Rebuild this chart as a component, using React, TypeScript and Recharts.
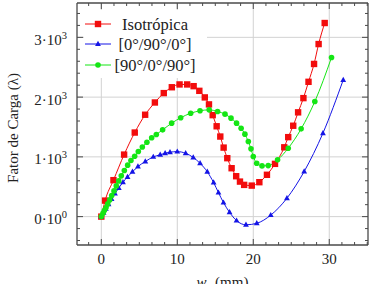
import { LineChart, Line, XAxis, YAxis, CartesianGrid, Legend, ReferenceLine } from "recharts";

const serif = "'Liberation Serif', 'Times New Roman', serif";

// Isotrópica (red squares)
const isoX = [0, 0.5, 1.6, 3.0, 4.4, 5.77, 7.05, 8.22, 9.28, 10.3, 11.3, 12.15, 12.9, 13.62, 14.17, 14.66, 15.18, 15.66, 16.1, 16.58, 17.15, 17.75, 18.25, 18.8, 19.8, 20.8, 21.8, 22.86, 24.08, 24.6, 25.26, 25.9, 26.6, 27.27, 28.0, 28.6, 29.4];
const isoY = [0, 268, 610, 1038, 1407, 1705, 1910, 2067, 2165, 2212, 2212, 2183, 2105, 1995, 1878, 1698, 1512, 1340, 1155, 978, 810, 676, 586, 531, 519, 576, 700, 883, 1160, 1330, 1521, 1745, 1983, 2256, 2555, 2888, 3240];

// [0°/90°/0°] (blue triangles)
const cpX = [0, 0.3, 0.6, 0.95, 1.35, 1.8, 2.3, 2.85, 3.45, 4.1, 4.82, 5.79, 6.84, 7.75, 8.4, 9.04, 10.0, 11.1, 12.1, 13.0, 13.95, 14.78, 15.42, 16.08, 16.88, 17.8, 19.04, 20.46, 22.3, 24.43, 26.7, 29.17, 31.84];
const cpY = [0, 65, 130, 205, 295, 385, 480, 575, 665, 750, 838, 922, 1000, 1035, 1062, 1078, 1088, 1060, 990, 892, 750, 570, 402, 235, 72, -67, -137, -112, 25, 308, 755, 1397, 2288];

// [90°/0°/90°] (green circles)
const apX = [0, 0.22, 0.4, 0.62, 0.84, 1.1, 1.37, 1.67, 1.97, 2.29, 2.63, 3.03, 3.47, 3.9, 4.39, 4.87, 5.4, 6.0, 6.63, 7.24, 8.07, 9.26, 10.45, 11.76, 12.99, 14.2, 15.3, 16.28, 17.07, 17.8, 18.4, 18.9, 19.35, 19.7, 20.0, 20.45, 21.15, 21.97, 23.2, 24.6, 26.3, 28.1, 30.3];
const apY = [0, 57, 101, 151, 213, 280, 352, 430, 514, 598, 682, 771, 861, 940, 1010, 1090, 1165, 1245, 1320, 1375, 1452, 1564, 1655, 1730, 1771, 1787, 1759, 1715, 1648, 1564, 1480, 1380, 1256, 1134, 1005, 894, 849, 854, 950, 1145, 1469, 1926, 2663];

const legendNames = ["Isotrópica", "[0°/90°/0°]", "[90°/0°/90°]"];
const xTicks = [0, 10, 20, 30];
const yTicks = [0, 1000, 2000, 3000];
const yMant = ["0", "1", "2", "3"];
const yExp = ["0", "3", "3", "3"];

const xDomain = [-3.2, 35.1];
const yDomain = [-475, 3575];

// minor tick positions (frame ticks, no labels)
const xAll: number[] = [];
for (let i = -1; i <= 21; i++) xAll.push(Math.round(((i * 10) / 6) * 1000) / 1000);
const yAll: number[] = [];
for (let v = -400; v <= 3400; v += 200) yAll.push(v);

const isoData = isoX.map((x, i) => ({ x, y: isoY[i] }));
const cpData = cpX.map((x, i) => ({ x, y: cpY[i] }));
const apData = apX.map((x, i) => ({ x, y: apY[i] }));

const RED = "#f20c0c";
const BLUE = "#1414e6";
const GREEN = "#14e614";
const FRAME = "#4a4a4a";
const TEXT = "#222";

const PLOT_TOP = 3;
const PLOT_RIGHT = 368;

const txt = { fontFamily: serif };

const squareDot = (p: any) =>
  p.cx == null ? null : <rect key={p.index} x={p.cx - 3.2} y={p.cy - 3.2} width={6.4} height={6.4} fill={RED} />;
const triDot = (p: any) =>
  p.cx == null ? null : (
    <path key={p.index} d={`M${p.cx},${p.cy - 3.2}L${p.cx + 2.9},${p.cy + 2}L${p.cx - 2.9},${p.cy + 2}Z`} fill={BLUE} />
  );
const circleDot = (p: any) =>
  p.cx == null ? null : <circle key={p.index} cx={p.cx} cy={p.cy} r={2.8} fill={GREEN} />;

const isMajorX = (v: number) => xTicks.some((t) => Math.abs(t - v) < 1e-6);

const XTick = ({ x, y, payload }: any) => {
  const major = isMajorX(payload.value);
  const len = major ? 6 : 3;
  return (
    <g>
      <line x1={x} x2={x} y1={y} y2={y - len} stroke={FRAME} strokeWidth={1} />
      <line x1={x} x2={x} y1={PLOT_TOP} y2={PLOT_TOP + len} stroke={FRAME} strokeWidth={1} />
      {major && (
        <text x={x} y={y + 18.5} textAnchor="middle" fontSize={15} style={txt} fill={TEXT}>
          {Math.round(payload.value)}
        </text>
      )}
    </g>
  );
};

const YTick = ({ x, y, payload }: any) => {
  const i = yTicks.indexOf(payload.value);
  const len = i >= 0 ? 6 : 3;
  return (
    <g>
      <line x1={x} x2={x + len} y1={y} y2={y} stroke={FRAME} strokeWidth={1} />
      <line x1={PLOT_RIGHT} x2={PLOT_RIGHT - len} y1={y} y2={y} stroke={FRAME} strokeWidth={1} />
      {i >= 0 && (
        <text x={x - 10} y={y + 7.5} textAnchor="end" fontSize={15} style={txt} fill={TEXT}>
          <tspan>{yMant[i]}·10</tspan>
          <tspan dy={-6} fontSize={10.5}>{yExp[i]}</tspan>
        </text>
      )}
    </g>
  );
};

const renderLegend = () => {
  const colors = [RED, BLUE, GREEN];
  const marks = [
    <rect x={10.8} y={10.8} width={6.4} height={6.4} fill={RED} />,
    <path d="M14,30.8L16.9,36L11.1,36Z" fill={BLUE} />,
    <circle cx={14} cy={55} r={2.8} fill={GREEN} />,
  ];
  const rowsY = [14, 34, 55];
  return (
    <svg width={123} height={68} style={{ display: "block", background: "#fff" }}>
      {legendNames.map((name, i) => (
        <g key={name}>
          <line x1={1} x2={27} y1={rowsY[i]} y2={rowsY[i]} stroke={colors[i]} strokeWidth={1} />
          {marks[i]}
          <text x={71} y={rowsY[i] + 5.5} textAnchor="middle" fontSize={16.5} style={txt} fill={TEXT}>
            {name}
          </text>
        </g>
      ))}
    </svg>
  );
};

const frameLine = { stroke: FRAME, strokeWidth: 1.3 };

export default function App() {
  return (
    <div style={{ position: "absolute", left: 0, top: 0, background: "#fff" }}>
      <LineChart width={369} height={284} margin={{ top: PLOT_TOP, right: 369 - PLOT_RIGHT, bottom: 0, left: 0 }}>
        <CartesianGrid
          xAxisId="main"
          yAxisId="main"
          stroke="#d2d2d2"
          strokeWidth={1}
          verticalValues={xTicks}
          horizontalValues={yTicks}
        />
        <XAxis
          xAxisId="main"
          dataKey="x"
          type="number"
          domain={xDomain}
          allowDataOverflow
          ticks={xAll}
          interval={0}
          height={39}
          tickSize={0}
          tickMargin={0}
          tickLine={false}
          axisLine={frameLine}
          tick={<XTick />}
          label={{
            content: () => (
              <text x={222.5} y={287} textAnchor="middle" fontSize={15} style={txt} fill={TEXT}>
                <tspan fontStyle="italic">w</tspan>
                <tspan dy={3} fontSize={10.5}>a</tspan>
                <tspan dy={-3}> (mm)</tspan>
              </text>
            ),
          }}
        />
        <YAxis
          yAxisId="main"
          type="number"
          domain={yDomain}
          allowDataOverflow
          ticks={yAll}
          interval={0}
          width={77}
          tickSize={0}
          tickMargin={0}
          tickLine={false}
          axisLine={frameLine}
          tick={<YTick />}
          label={{
            content: () => (
              <text
                x={0}
                y={0}
                transform="translate(17.5,128) rotate(-90)"
                textAnchor="middle"
                fontSize={15}
                style={txt}
                fill={TEXT}
              >
                Fator de Carga (λ)
              </text>
            ),
          }}
        />
        <ReferenceLine xAxisId="main" yAxisId="main" y={yDomain[1]} ifOverflow="visible" {...frameLine} />
        <ReferenceLine xAxisId="main" yAxisId="main" x={xDomain[1]} ifOverflow="visible" {...frameLine} />

        <Legend
          layout="vertical"
          verticalAlign="middle"
          align="center"
          content={renderLegend}
          wrapperStyle={{ left: 84, top: 10, width: 123, height: 68 }}
        />

        <Line
          xAxisId="main"
          yAxisId="main"
          data={isoData}
          dataKey="y"
          name={legendNames[0]}
          type="monotone"
          stroke={RED}
          strokeWidth={1}
          dot={squareDot}
          activeDot={false}
          isAnimationActive={false}
        />
        <Line
          xAxisId="main"
          yAxisId="main"
          data={cpData}
          dataKey="y"
          name={legendNames[1]}
          type="monotone"
          stroke={BLUE}
          strokeWidth={1}
          dot={triDot}
          activeDot={false}
          isAnimationActive={false}
        />
        <Line
          xAxisId="main"
          yAxisId="main"
          data={apData}
          dataKey="y"
          name={legendNames[2]}
          type="monotone"
          stroke={GREEN}
          strokeWidth={1}
          dot={circleDot}
          activeDot={false}
          isAnimationActive={false}
        />
      </LineChart>
    </div>
  );
}
